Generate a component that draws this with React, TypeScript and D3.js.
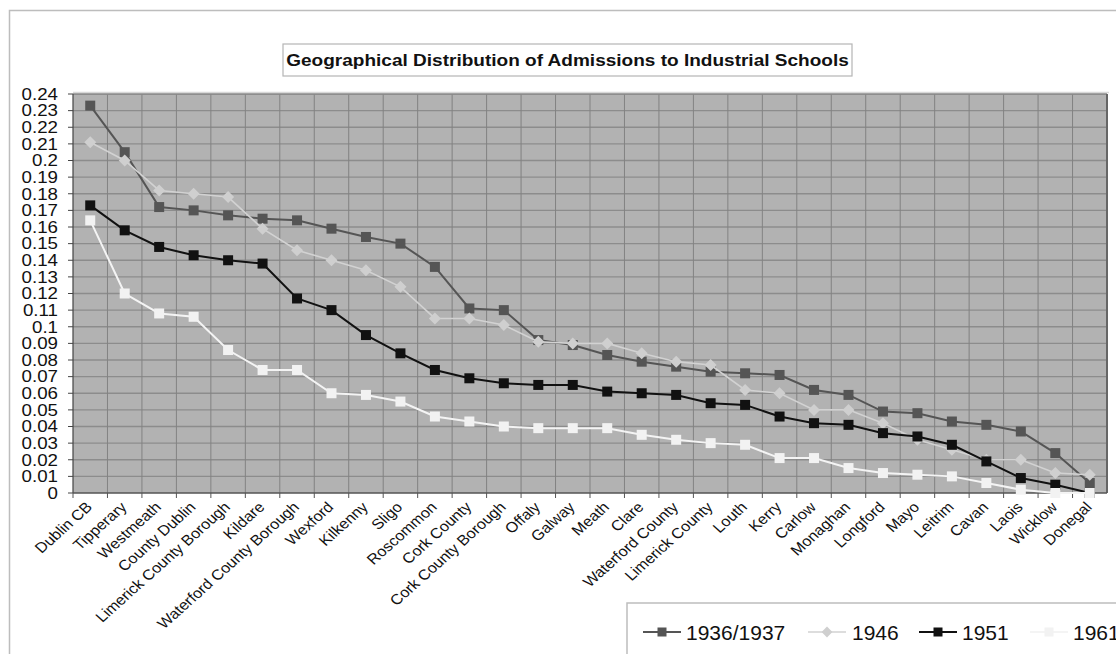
import React from 'react';
import * as d3 from 'd3';

const categories = [
  'Dublin CB', 'Tipperary', 'Westmeath', 'County Dublin', 'Limerick County Borough', 'Kildare',
  'Waterford County Borough', 'Wexford', 'Kilkenny', 'Sligo', 'Roscommon', 'Cork County',
  'Cork County Borough', 'Offaly', 'Galway', 'Meath', 'Clare', 'Waterford County',
  'Limerick County', 'Louth', 'Kerry', 'Carlow', 'Monaghan', 'Longford', 'Mayo',
  'Leitrim', 'Cavan', 'Laois', 'Wicklow', 'Donegal',
];

const values1936 = [0.233, 0.205, 0.172, 0.170, 0.167, 0.165, 0.164, 0.159, 0.154, 0.150, 0.136, 0.111, 0.110, 0.092, 0.089, 0.083, 0.079, 0.076, 0.073, 0.072, 0.071, 0.062, 0.059, 0.049, 0.048, 0.043, 0.041, 0.037, 0.024, 0.006];
const values1946 = [0.211, 0.200, 0.182, 0.180, 0.178, 0.159, 0.146, 0.140, 0.134, 0.124, 0.105, 0.105, 0.101, 0.091, 0.090, 0.090, 0.084, 0.079, 0.077, 0.062, 0.060, 0.050, 0.050, 0.042, 0.032, 0.026, 0.020, 0.020, 0.012, 0.011];
const values1951 = [0.173, 0.158, 0.148, 0.143, 0.140, 0.138, 0.117, 0.110, 0.095, 0.084, 0.074, 0.069, 0.066, 0.065, 0.065, 0.061, 0.060, 0.059, 0.054, 0.053, 0.046, 0.042, 0.041, 0.036, 0.034, 0.029, 0.019, 0.009, 0.005, 0.000];
const values1961 = [0.164, 0.120, 0.108, 0.106, 0.086, 0.074, 0.074, 0.060, 0.059, 0.055, 0.046, 0.043, 0.040, 0.039, 0.039, 0.039, 0.035, 0.032, 0.030, 0.029, 0.021, 0.021, 0.015, 0.012, 0.011, 0.010, 0.006, 0.002, 0.000, 0.000];

const yTicks = d3.range(0, 25).map(i => i / 100);

const series = [
  { name: '1936/1937', values: values1936, line: '#555555', fill: '#555555', shape: 'square', lw: 2 },
  { name: '1946', values: values1946, line: '#d2d2d2', fill: '#cfcfcf', shape: 'diamond', lw: 1.6 },
  { name: '1951', values: values1951, line: '#111111', fill: '#111111', shape: 'square', lw: 2 },
  { name: '1961', values: values1961, line: '#f4f4f4', fill: '#f2f2f2', shape: 'square', lw: 2 },
];

const FONT = '"Liberation Sans", Arial, Helvetica, sans-serif';
// the source picture is stretched a little sideways; text follows it
const SX = 1.12;

const Marker = ({ x, y, shape, fill, size }: { x: number; y: number; shape: string; fill: string; size: number }) => {
  if (shape === 'diamond') {
    const h = size * 0.6;
    return <path d={`M${x},${y - h}L${x + h},${y}L${x},${y + h}L${x - h},${y}Z`} fill={fill} />;
  }
  return <rect x={x - size / 2} y={y - size / 2} width={size} height={size} fill={fill} />;
};

export default function App() {
  const width = 1116;
  const height = 654;
  const plot = { left: 73, right: 1107, top: 94, bottom: 493 };

  const x = d3.scaleBand<string>().domain(categories).range([plot.left, plot.right]);
  const y = d3.scaleLinear().domain([0, 0.24]).range([plot.bottom, plot.top]);
  const cx = (c: string) => (x(c) || 0) + x.bandwidth() / 2;

  const line = d3.line<number>()
    .x((_, i) => cx(categories[i]))
    .y(d => y(d));

  const legendY = 632;
  const legendItems = [
    { lx: 643, tx: 686 },
    { lx: 808, tx: 852 },
    { lx: 919, tx: 962 },
    { lx: 1030, tx: 1073 },
  ];

  return (
    <svg width={width} height={height} style={{ position: 'absolute', left: 0, top: 0, background: '#fff' }} fontFamily={FONT}>
      {/* outer chart frame */}
      <rect x={9.5} y={10.5} width={width + 20} height={height + 20} fill="#fff" stroke="#bdbdbd" strokeWidth={1.5} />

      {/* title */}
      <rect x={283} y={44} width={569} height={32} fill="#fff" stroke="#b5b5b5" strokeWidth={1.2} />
      <text transform={`translate(567.5,66) scale(${SX},1)`} textAnchor="middle" fontSize={17} fontWeight="bold" fill="#111">
        Geographical Distribution of Admissions to Industrial Schools
      </text>

      {/* plot area */}
      <rect x={plot.left} y={plot.top} width={plot.right - plot.left} height={plot.bottom - plot.top} fill="#b2b2b2" />
      {yTicks.slice(1).map(t => (
        <line key={t} x1={plot.left} x2={plot.right} y1={y(t)} y2={y(t)} stroke="#8c8c8c" strokeWidth={1.3} />
      ))}
      {categories.slice(1).map(c => (
        <line key={c} x1={x(c)} x2={x(c)} y1={plot.top} y2={plot.bottom} stroke="#828282" strokeWidth={1} />
      ))}
      <line x1={plot.left} x2={plot.right} y1={plot.top} y2={plot.top} stroke="#8a8a8a" strokeWidth={1.5} />
      <line x1={plot.left} x2={plot.right + 2} y1={plot.top - 1.5} y2={plot.top - 1.5} stroke="#d8d8d8" strokeWidth={1.5} />
      <line x1={plot.right} x2={plot.right} y1={plot.top} y2={plot.bottom} stroke="#666" strokeWidth={2} />

      {/* axes */}
      <line x1={plot.left} x2={plot.left} y1={plot.top} y2={plot.bottom} stroke="#444" strokeWidth={1.2} />
      {yTicks.map(t => (
        <g key={t}>
          <line x1={plot.left - 5} x2={plot.left} y1={y(t)} y2={y(t)} stroke="#444" strokeWidth={1} />
          <text transform={`translate(58,${y(t)}) scale(1.17,1)`} dy="0.36em" textAnchor="end" fontSize={16} fill="#111">
            {d3.format('~g')(t)}
          </text>
        </g>
      ))}
      <line x1={plot.left} x2={plot.right} y1={plot.bottom} y2={plot.bottom} stroke="#555" strokeWidth={1.6} />
      {categories.map(c => (
        <line key={c} x1={x(c)} x2={x(c)} y1={plot.bottom} y2={plot.bottom + 5} stroke="#555" strokeWidth={1} />
      ))}
      {categories.map(c => (
        <text
          key={c}
          transform={`translate(${cx(c) + 3},${plot.bottom + 15}) scale(${SX},1) rotate(-45)`}
          textAnchor="end"
          fontSize={14.5}
          fill="#111"
        >
          {c}
        </text>
      ))}

      {/* series */}
      {series.map(s => (
        <g key={s.name}>
          <path d={line(s.values) || undefined} fill="none" stroke={s.line} strokeWidth={s.lw} />
          {s.values.map((v, i) => (
            <Marker key={i} x={cx(categories[i])} y={y(v)} shape={s.shape} fill={s.fill} size={10} />
          ))}
        </g>
      ))}

      {/* legend */}
      <rect x={627} y={603} width={600} height={100} fill="#fff" stroke="#bdbdbd" strokeWidth={1.5} />
      {series.map((s, i) => (
        <g key={s.name}>
          <line x1={legendItems[i].lx} x2={legendItems[i].lx + 38} y1={legendY} y2={legendY} stroke={s.line} strokeWidth={s.lw} />
          <Marker x={legendItems[i].lx + 19} y={legendY} shape={s.shape} fill={s.fill} size={9} />
          <text x={legendItems[i].tx} y={legendY} dy="0.36em" fontSize={21} fill="#111">{s.name}</text>
        </g>
      ))}
    </svg>
  );
}
